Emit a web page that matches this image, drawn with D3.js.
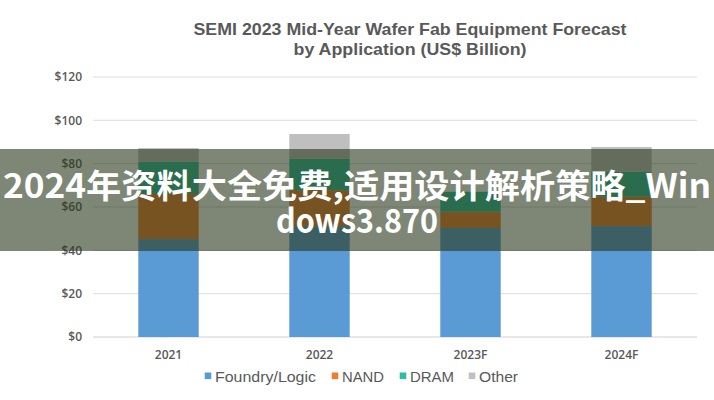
<!DOCTYPE html>
<html>
<head>
<meta charset="utf-8">
<script src="https://cdn.jsdelivr.net/npm/d3@7"></script>
<style>
  html, body { margin: 0; padding: 0; background: #ffffff; }
  svg { display: block; }
</style>
</head>
<body>
<script>
const categories = ["2021", "2022", "2023F", "2024F"];
const seriesNames = ["Foundry/Logic", "NAND", "DRAM", "Other"];
const foundryLogic = [45.2, 51.2, 50.3, 51.2];
const nand = [20.8, 16.6, 7.5, 13.5];
const dram = [14.8, 14.4, 9.2, 11.6];
const other = [6.4, 11.5, 0, 11.4];
const yTicks = [0, 20, 40, 60, 80, 100, 120];
const colors = ["#5B9BD5", "#ED7D31", "#2BBE9F", "#BFBFBF"];
const titleLines = ["SEMI 2023 Mid-Year Wafer Fab Equipment Forecast", "by Application (US$ Billion)"];
const overlayLines = ["2024年资料大全免费,适用设计解析策略_Win", "dows3.870"];

const W = 714, H = 400;
const svg = d3.select("body").append("svg").attr("width", W).attr("height", H);

const rows = categories.map((c, i) => ({
  cat: c,
  "Foundry/Logic": foundryLogic[i],
  "NAND": nand[i],
  "DRAM": dram[i],
  "Other": other[i]
}));
const stacked = d3.stack().keys(seriesNames)(rows);

const x = d3.scaleBand().domain(categories).range([93, 697]).paddingInner(0.6).paddingOuter(0.3);
const y = d3.scaleLinear().domain([0, 120]).range([337, 77]);
const color = d3.scaleOrdinal().domain(seriesNames).range(colors);

// gridlines
svg.append("g").selectAll("line").data(yTicks).join("line")
  .attr("x1", 93).attr("x2", 697)
  .attr("y1", d => y(d)).attr("y2", d => y(d))
  .attr("stroke", d => d === 0 ? "#d0d0d0" : "#dcdcdc").attr("stroke-width", 1);

// y axis labels
const yAxis = d3.axisLeft(y).tickValues(yTicks).tickSize(0).tickPadding(0).tickFormat(d => "$" + d);
const gy = svg.append("g").attr("transform", "translate(82,0)").call(yAxis);
gy.select(".domain").remove();
gy.selectAll("text").attr("fill", "#595959").attr("font-family", "'Open Sans', 'Liberation Sans', sans-serif")
  .attr("font-size", 12).attr("font-weight", 600);

// x axis labels
const xAxis = d3.axisBottom(x).tickSize(0).tickPadding(0);
const gx = svg.append("g").attr("transform", "translate(0,350)").call(xAxis);
gx.select(".domain").remove();
gx.selectAll("text").attr("fill", "#595959").attr("font-family", "'Open Sans', 'Liberation Sans', sans-serif")
  .attr("font-size", 12).attr("font-weight", 600);

// bars
svg.append("g").selectAll("g").data(stacked).join("g")
  .attr("fill", d => color(d.key))
  .selectAll("rect").data(d => d).join("rect")
  .attr("x", d => x(d.data.cat))
  .attr("width", x.bandwidth())
  .attr("y", d => y(d[1]))
  .attr("height", d => y(d[0]) - y(d[1]));

// title
svg.append("g").selectAll("text").data(titleLines).join("text")
  .attr("x", 410).attr("y", (d, i) => 35 + i * 20)
  .attr("text-anchor", "middle")
  .attr("fill", "#595959")
  .attr("font-family", "'Liberation Sans', Arial, sans-serif")
  .attr("font-weight", "bold").attr("font-size", 17)
  .attr("textLength", (d, i) => i === 0 ? 433 : 233)
  .attr("lengthAdjust", "spacingAndGlyphs")
  .text(d => d);

// legend
const legendX = [208, 335, 403, 472];
const legendLen = [101, 42, 44, 39];
const lg = svg.append("g").selectAll("g").data(seriesNames).join("g")
  .attr("transform", (d, i) => `translate(${legendX[i]},376)`);
lg.append("rect").attr("x", -3.3).attr("y", -3.5).attr("width", 6.6).attr("height", 6.6).attr("fill", d => color(d));
lg.append("text").attr("x", 7).attr("y", 5.5)
  .attr("fill", "#595959")
  .attr("font-family", "'Liberation Sans', Arial, sans-serif")
  .attr("font-size", 15)
  .attr("textLength", (d, i) => legendLen[i])
  .attr("lengthAdjust", "spacingAndGlyphs")
  .text(d => d);

// overlay band
svg.append("rect").attr("x", 0).attr("y", 149).attr("width", W).attr("height", 102)
  .attr("fill", "rgb(40,55,25)").attr("fill-opacity", 0.6);

svg.append("g").selectAll("text").data(overlayLines).join("text")
  .attr("x", 357).attr("y", (d, i) => 198 + i * 35)
  .attr("text-anchor", "middle")
  .attr("fill", "#ffffff")
  .attr("font-family", "'Noto Sans CJK SC', 'Noto Sans', sans-serif")
  .attr("font-weight", "bold").attr("font-size", 33)
  .attr("textLength", (d, i) => i === 0 ? 708 : 162)
  .attr("lengthAdjust", "spacingAndGlyphs")
  .text(d => d);
</script>
</body>
</html>
